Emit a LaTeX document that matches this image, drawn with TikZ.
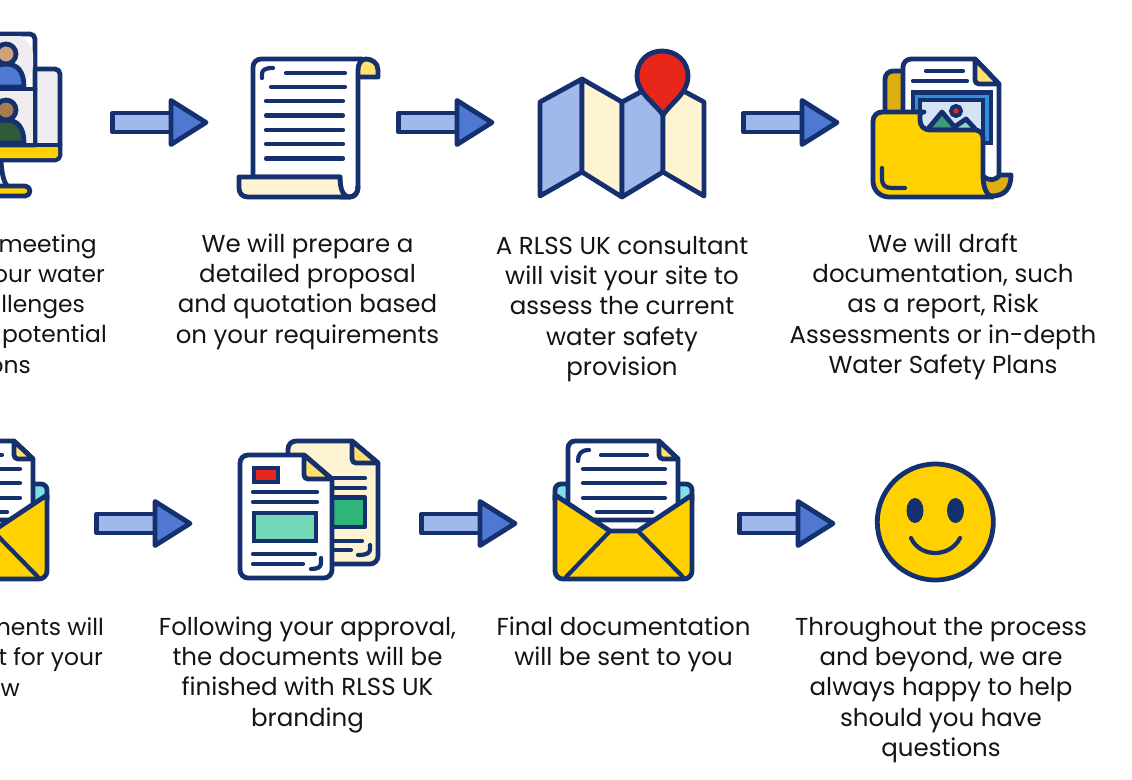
\documentclass[tikz,border=0pt]{standalone}
\usepackage{fontspec}
\setmainfont{Poppins}
\definecolor{navy}{HTML}{15306F}
\definecolor{txt}{HTML}{141414}
\definecolor{ayel}{HTML}{FFD100}
\definecolor{dyel}{HTML}{DDAE10}
\definecolor{lyel}{HTML}{FFDF70}
\definecolor{cream}{HTML}{FFF4D2}
\definecolor{lblue}{HTML}{A0B8EA}
\definecolor{mblue}{HTML}{4F78D2}
\definecolor{ared}{HTML}{E8261A}
\definecolor{agrey}{HTML}{EFEDF0}
\definecolor{acyan}{HTML}{7FDFE2}
\definecolor{skina}{HTML}{CFA27C}
\definecolor{skinb}{HTML}{A67B50}
\definecolor{shirt}{HTML}{2F5B3B}
\definecolor{picblue}{HTML}{2F8FD8}
\definecolor{picsky}{HTML}{D5E3F5}
\definecolor{mta}{HTML}{3E9A7A}
\definecolor{mtb}{HTML}{8FD9C0}
\definecolor{greena}{HTML}{2EB57A}
\definecolor{greenb}{HTML}{74D8B8}
\tikzset{
 ln/.style={draw=navy,line width=4.8pt,line cap=round,line join=round},
 thin ln/.style={draw=navy,line width=4.2pt,line cap=round,line join=round},
 label txt/.style={text=txt,inner sep=0pt,align=center,anchor=north,font=\fontsize{24.5}{30.3}\selectfont},
 frag txt/.style={text=txt,inner sep=0pt,anchor=base east,font=\fontsize{23.4}{30.3}\selectfont},
 blockarrow/.pic={
  \draw[ln,fill=lblue] (2.5,-9.5) rectangle (62,9.5);
  \draw[ln,fill=mblue] (61,-22) -- (96,0) -- (61,22) -- cycle;
 },
 envelope/.pic={
  \draw[ln,fill=acyan] (555,500) -- (555,491) [rounded corners=6pt] -- (555,484) -- (580,484) -- (580,500);
  \draw[ln,fill=acyan] (692,500) -- (692,491) [rounded corners=6pt] -- (692,484) -- (665,484) -- (665,500);
  \draw[ln,fill=white] (568,520) [rounded corners=7pt] -- (568,441) [sharp corners] -- (659,441) -- (678,459) -- (678,520) -- cycle;
  \draw[ln,fill=lyel] (659,441) [rounded corners=4pt] -- (659,459) [sharp corners] -- (678,459) -- cycle;
  \draw[thin ln] (601,455) -- (647,455);
  \draw[thin ln] (578,461) .. controls (578,454) and (581,450) .. (589,450);
  \foreach \y in {469,483,498} \draw[thin ln] (583,\y) -- (665,\y);
  \draw[thin ln] (597,512) -- (652,512);
  \draw[ln,fill=ayel] (555,495) -- (610,531) -- (638,531) -- (692,495) [rounded corners=8pt] -- (692,579) -- (555,579) [sharp corners] -- cycle;
  \draw[thin ln] (610,531) -- (566,577);
  \draw[thin ln] (638,531) -- (683,577);
 },
}
\newcommand{\blocklabel}[4]{\node[label txt] (#1) at (#2,#3) {\rule{0pt}{20pt}#4};}
\begin{document}
\begin{tikzpicture}[x=1pt,y=-1pt]
\useasboundingbox (0,0) rectangle (1132,779);
\fill[white] (0,0) rectangle (1132,779);

% --- monitor (cut by the left edge)
\draw[ln,fill=agrey] (-8,69) [rounded corners=5pt] -- (60,69) -- (60,160) -- (-8,160);
\fill[ayel,rounded corners=3pt] (-8,146) -- (58,146) -- (58,158) -- (-8,158) -- cycle;
\draw[ln] (-8,145) -- (60,145);
\draw[ln,fill=white] (-8,34) [rounded corners=5pt] -- (35,34) [sharp corners] -- (35,145) -- (-8,145) -- cycle;
\begin{scope}
 \clip (-8,36) rectangle (33,87);
 \fill[agrey] (6,60) circle (28);
\end{scope}
\fill[agrey] (-8,91) rectangle (32.6,143);
\draw[ln] (-8,89) -- (35,89);
\draw[ln,fill=mblue] (-14,87) .. controls (-14,72) and (-6,64) .. (6,64) .. controls (18,64) and (24,72) .. (24,87) -- cycle;
\draw[ln,fill=skina] (6,54) circle (10);
\draw[ln,fill=shirt] (-14,143) .. controls (-14,128) and (-6,120) .. (6,120) .. controls (18,120) and (24,128) .. (24,143) -- cycle;
\draw[ln,fill=skinb] (6,110) circle (10);
\draw[ln] (1,162) .. controls (2,173) and (3,180) .. (7,186);
\draw[ln,fill=ayel,rounded corners=5pt] (-10,186) rectangle (30,196);

% --- scroll
\draw[ln,fill=white] (253,177) [rounded corners=8pt] -- (253,59) [sharp corners] -- (362,59) -- (358,78) [rounded corners=9pt] -- (358,197) [sharp corners] -- (340,197) -- (340,177) -- cycle;
\draw[ln,fill=lyel] (358,77) -- (378,77) -- (378,70) .. controls (378,63) and (372,59) .. (366,59) .. controls (361,59) and (358,64) .. (358,70) -- cycle;
\draw[ln,fill=cream] (239,177) -- (340,177) .. controls (340,189) and (343,197) .. (350,197) -- (248,197) .. controls (242,197) and (239,193) .. (239,188) -- cycle;
\draw[ln] (350,197) .. controls (355,197) and (358,193) .. (358,186);
\draw[thin ln] (262,78) -- (262,74) .. controls (262,70) and (265,68) .. (273,68);
\draw[thin ln] (286,73) -- (345,73);
\draw[thin ln] (271,87) -- (345,87);
\foreach \y in {101,115.5,130,144,158.5} \draw[thin ln] (266,\y) -- (343,\y);

% --- map
\draw[ln,fill=lblue] (540,102) -- (582,79) -- (582,172) -- (540,196) -- cycle;
\draw[ln,fill=cream] (582,79) -- (622,102) -- (622,197) -- (582,172) -- cycle;
\draw[ln,fill=lblue] (622,102) -- (663,80) -- (663,172) -- (622,197) -- cycle;
\draw[ln,fill=cream] (663,80) -- (704,102) -- (704,196) -- (663,172) -- cycle;
\draw[ln,fill=ared] (663,115) .. controls (655,103) and (637,93) .. (637,76) .. controls (637,61) and (648,51) .. (662,51) .. controls (676,51) and (688,61) .. (688,76) .. controls (688,93) and (671,103) .. (663,115) -- cycle;

% --- folder
\draw[ln,fill=dyel] (905,125) -- (885,125) [rounded corners=8pt] -- (885,71) -- (905,71);
\draw[ln,fill=white] (903,150) [rounded corners=8pt] -- (903,59) [sharp corners] -- (975,59) -- (999,84) [rounded corners=8pt] -- (999,184) [sharp corners] -- (940,184) -- cycle;
\draw[ln,fill=lyel] (975,59) [rounded corners=4pt] -- (975,84) [sharp corners] -- (999,84) -- cycle;
\draw[thin ln] (926,71) -- (963,71);
\draw[thin ln] (913,81) -- (967,81);
\draw[ln,line cap=butt,line join=miter,fill=picblue] (913,92.5) rectangle (991,143);
\draw[ln,line cap=butt,line join=miter,fill=picsky] (920,100) rectangle (983,140);
\draw[ln,fill=mtb] (950,130) -- (966,119) -- (978,132) -- cycle;
\draw[ln,fill=mta] (927,130) -- (942,112) -- (957,130) -- cycle;
\draw[navy,line width=4pt,fill=ared] (956,111) circle (5);
\draw[ln,fill=dyel] (983,176) .. controls (990,182) and (996,180) .. (1000,175) -- (1011,175) .. controls (1011,188) and (1005,196) .. (992,196) -- (975,196) -- cycle;
\draw[ln,fill=ayel] (873,125) [rounded corners=9pt] -- (873,112) -- (915,112) [sharp corners] .. controls (919,112) and (920,116) .. (920,120) .. controls (920,126) and (924,130) .. (930,130) [rounded corners=8pt] -- (983,130) [sharp corners] -- (983,176) .. controls (983,188) and (987,196) .. (993,197) -- (889,197) .. controls (880,197) and (873,190) .. (873,181) -- cycle;
\draw[thin ln] (882,168) -- (882,179) .. controls (882,185) and (885,188) .. (892,188) -- (905,188);

% --- envelopes
\pic at (-645,0) {envelope};
\pic at (0,0) {envelope};

% --- two documents
\draw[ln,fill=cream] (288,520) [rounded corners=8pt] -- (288,441) [sharp corners] -- (352,441) -- (378,463) [rounded corners=8pt] -- (378,564) -- (300,564) [sharp corners] -- cycle;
\draw[ln,fill=lyel] (352,441) [rounded corners=4pt] -- (352,463) [sharp corners] -- (378,463) -- cycle;
\draw[thin ln] (325,478) -- (365,478);
\draw[thin ln] (325,488) -- (365,488);
\draw[ln,fill=greena] (310,497.5) rectangle (365,527);
\draw[thin ln] (325,541) -- (362,541);
\draw[thin ln] (325,550) -- (351,550);
\draw[thin ln] (370,545) -- (370,549) .. controls (370,553) and (367,555) .. (358,555);
\draw[ln,fill=white] (240,500) [rounded corners=8pt] -- (240,455) [sharp corners] -- (304,455) -- (332,479) [rounded corners=8pt] -- (332,578) -- (240,578) [sharp corners] -- cycle;
\draw[ln,fill=lyel] (304,455) [rounded corners=4pt] -- (304,479) [sharp corners] -- (332,479) -- cycle;
\draw[ln,line join=miter,line cap=butt,fill=ared] (254,468) rectangle (278,482);
\draw[thin ln] (253,492) -- (317,492);
\draw[thin ln] (253,502) -- (317,502);
\draw[ln,line join=miter,line cap=butt,fill=greenb] (254,513) rectangle (316,541);
\draw[thin ln] (253,554) -- (315,554);
\draw[thin ln] (253,564) -- (303,564);
\draw[thin ln] (321,558) -- (321,563) .. controls (321,567) and (318,569) .. (311,569);

% --- smiley
\draw[navy,line width=4.8pt,fill=ayel] (935.3,522) circle (58);
\fill[navy] (915,510.5) ellipse (8.5 and 12.5);
\fill[navy] (955.5,510.5) ellipse (8.5 and 12.5);
\draw[thin ln] (911,538) .. controls (920,558) and (950,558) .. (960,538);

% --- arrows
\pic at (110,122.5) {blockarrow};
\pic at (396,122.5) {blockarrow};
\pic at (741,122.5) {blockarrow};
\pic at (94,523.5) {blockarrow};
\pic at (419,523.5) {blockarrow};
\pic at (737,523.5) {blockarrow};

% --- texts
\node[frag txt] (t1a) at (97,252) {meeting};
\node[frag txt] (t1b) at (105,282) {our water};
\node[frag txt] (t1c) at (85,312.5) {llenges};
\node[frag txt] (t1d) at (107,342.5) {potential};
\node[frag txt] (t1e) at (31,373) {ons};
\blocklabel{t2}{307.5}{232}{We will prepare a\\detailed proposal\\and quotation based\\on your requirements}
\blocklabel{t3}{622}{234}{A RLSS UK consultant\\will visit your site to\\assess the current\\water safety\\provision}
\blocklabel{t4}{943}{232}{We will draft\\documentation, such\\as a report, Risk\\Assessments or in-depth\\Water Safety Plans}
\node[frag txt] (t5a) at (104,635) {ments will};
\node[frag txt] (t5b) at (103,665) {t for your};
\node[frag txt] (t5c) at (20,696) {w};
\blocklabel{t6}{307.5}{615}{Following your approval,\\the documents will be\\finished with RLSS UK\\branding}
\blocklabel{t7}{623.5}{615}{Final documentation\\will be sent to you}
\blocklabel{t8}{941}{615}{Throughout the process\\and beyond, we are\\always happy to help\\should you have\\questions}
\end{tikzpicture}
\end{document}
